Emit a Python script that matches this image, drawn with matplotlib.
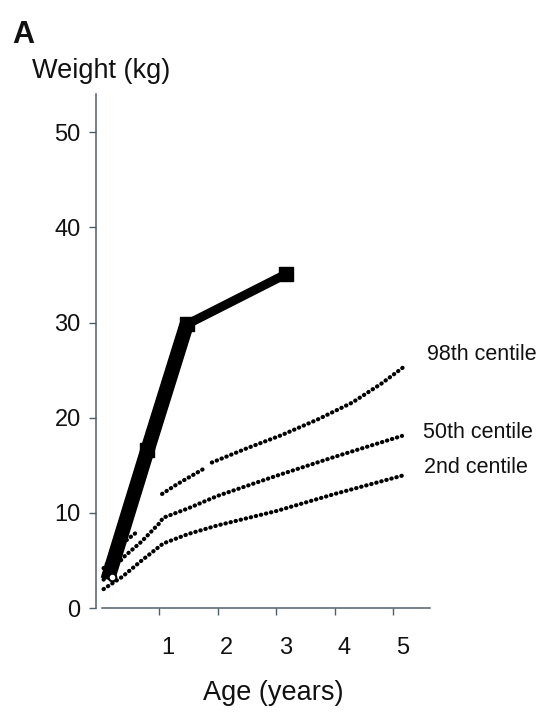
import numpy as np
import matplotlib
matplotlib.use("Agg")
import matplotlib.pyplot as plt
from matplotlib.transforms import ScaledTranslation

plt.rcParams['font.family'] = ['Liberation Sans', 'DejaVu Sans']

# patient weights (years, kg)
patient_age = [0.12, 0.80, 1.47, 3.17]
patient_wt = [3.0, 16.6, 29.8, 35.1]
birth_age = [0.19]
birth_wt = [3.3]

# centile curves (nan = gap in the printed curve)
c98_age = [0.05, 0.2, 0.37, 0.62, np.nan, 1.05, 1.3, 1.75, np.nan,
           1.9, 2.5, 3.1, 3.7, 4.3, 4.8, 5.17]
c98_wt = [4.2, 5.4, 6.8, 8.0, np.nan, 12.0, 13.0, 14.6, np.nan,
          15.3, 16.8, 18.2, 19.8, 21.6, 23.6, 25.3]
c50_age = [0.05, 0.4, 0.7, 1.0, 1.07, 1.5, 2.0, 3.0, 4.0, 5.15]
c50_wt = [3.0, 5.4, 7.0, 8.9, 9.5, 10.5, 11.8, 13.9, 15.9, 18.1]
c2_age = [0.05, 0.37, 0.7, 1.07, 1.5, 2.0, 3.0, 4.0, 5.2]
c2_wt = [2.0, 3.3, 5.0, 6.8, 7.8, 8.7, 10.2, 12.0, 14.0]

centile_labels = ["98th centile", "50th centile", "2nd centile"]
label_pos = [(5.58, 26.1), (5.5, 17.9), (5.53, 14.2)]

x_ticks = [1, 2, 3, 4, 5]
y_ticks = [0, 10, 20, 30, 40, 50]

axis_col = '#4f5e6a'
txt_col = '#111111'

fig = plt.figure(figsize=(5.39, 7.13), dpi=100)
ax = fig.add_axes([0.178, 0.147, 0.620, 0.721])

for xs, ys in [(c98_age, c98_wt), (c50_age, c50_wt), (c2_age, c2_wt)]:
    ax.plot(xs, ys, color='black', lw=3.0, linestyle=(0, (0.1, 1.15)),
            dash_capstyle='round', zorder=2)

# thick early segments, thinner later one
ax.plot(patient_age[:3], patient_wt[:3], color='black', lw=10.5,
        solid_capstyle='butt', zorder=3)
ax.plot(patient_age[2:], patient_wt[2:], color='black', lw=6.5,
        solid_capstyle='butt', zorder=3)
ax.plot(patient_age[1:], patient_wt[1:], linestyle='none', marker='s',
        markersize=10, color='black', zorder=4)
ax.plot(birth_age, birth_wt, linestyle='none', marker='o', markersize=5.5,
        markerfacecolor='white', markeredgecolor='black', markeredgewidth=1.5,
        zorder=5)

for lab, (lx, ly) in zip(centile_labels, label_pos):
    ax.text(lx, ly, lab, fontsize=15.5, color=txt_col, ha='left', va='baseline',
            clip_on=False)

ax.set_xlim(-0.08, 5.63)
ax.set_ylim(0, 54)
ax.set_xticks(x_ticks)
ax.set_yticks(y_ticks)
ax.set_xticklabels([str(t) for t in x_ticks])
ax.set_yticklabels([str(t) for t in y_ticks])

for s in ['top', 'right']:
    ax.spines[s].set_visible(False)
for s in ['left', 'bottom']:
    ax.spines[s].set_color(axis_col)
    ax.spines[s].set_linewidth(1.1)
ax.spines['bottom'].set_bounds(0.03, 5.63)

ax.tick_params(axis='y', length=5, width=1.0, color=axis_col, pad=6,
               labelsize=17, labelcolor=txt_col)
ax.tick_params(axis='x', length=5, width=1.0, color=axis_col, pad=16,
               labelsize=17, labelcolor=txt_col)
shift = ScaledTranslation(9 / 100, 0, fig.dpi_scale_trans)
for lab in ax.get_xticklabels():
    lab.set_transform(lab.get_transform() + shift)

fig.text(12 / 539, 1 - 43 / 713, "A", fontsize=22, fontweight='bold',
         color=txt_col, ha='left', va='baseline')
fig.text(32 / 539, 1 - 78 / 713, "Weight (kg)", fontsize=19.5, color=txt_col,
         ha='left', va='baseline')
fig.text(273 / 539, 1 - 700 / 713, "Age (years)", fontsize=19.5, color=txt_col,
         ha='center', va='baseline')

fig.savefig("out.png", dpi=100, facecolor='white')
